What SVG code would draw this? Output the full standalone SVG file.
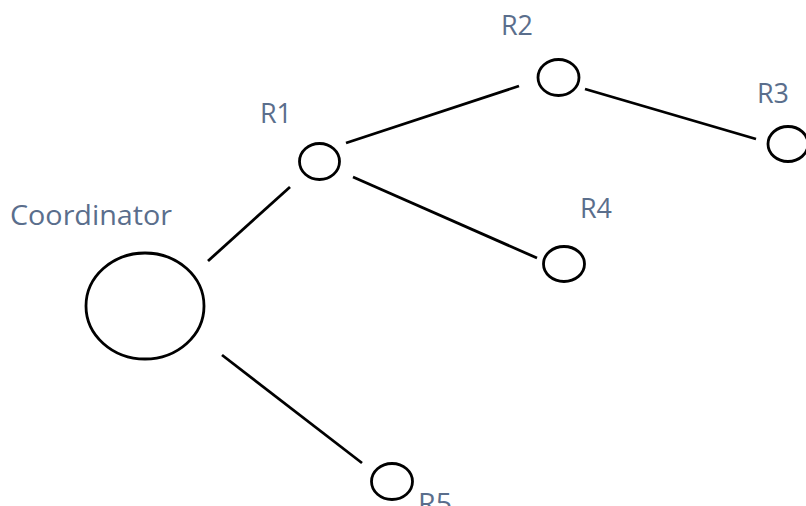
<svg xmlns="http://www.w3.org/2000/svg" width="806" height="506" viewBox="0 0 806 506">
<style>
.n{fill:none;stroke:#000;stroke-width:2.8}
.e{stroke:#000;stroke-width:2.8;fill:none}
.t{font-family:"Open Sans","Liberation Sans",sans-serif;font-size:27px;fill:#5a6e8c}
</style>
<rect width="806" height="506" fill="#fff"/>
<g id="connectors">
<line class="e" x1="290" y1="187" x2="208" y2="261"/>
<line class="e" x1="346" y1="143" x2="519" y2="86"/>
<line class="e" x1="585" y1="89" x2="756" y2="139"/>
<line class="e" x1="353" y1="177" x2="537" y2="258"/>
<line class="e" x1="222" y1="355" x2="362" y2="463"/>
</g>
<g id="coordinator">
<ellipse class="n" cx="145" cy="306" rx="59" ry="53"/>
<text class="t" x="10" y="225" textLength="162" lengthAdjust="spacingAndGlyphs">Coordinator</text>
</g>
<g id="r1">
<ellipse class="n" cx="319.5" cy="161.5" rx="20" ry="18"/>
<text class="t" x="260" y="123" textLength="32" lengthAdjust="spacingAndGlyphs">R1</text>
</g>
<g id="r2">
<ellipse class="n" cx="558.5" cy="77.5" rx="20.5" ry="18"/>
<text class="t" x="501" y="35" textLength="32" lengthAdjust="spacingAndGlyphs">R2</text>
</g>
<g id="r3">
<ellipse class="n" cx="788" cy="144" rx="20" ry="17.5"/>
<text class="t" x="757" y="103" textLength="32" lengthAdjust="spacingAndGlyphs">R3</text>
</g>
<g id="r4">
<ellipse class="n" cx="564" cy="264" rx="20.5" ry="17.5"/>
<text class="t" x="580" y="218" textLength="32" lengthAdjust="spacingAndGlyphs">R4</text>
</g>
<g id="r5">
<ellipse class="n" cx="392" cy="481.5" rx="20.5" ry="18"/>
<text class="t" x="418" y="513" textLength="34" lengthAdjust="spacingAndGlyphs">R5</text>
</g>
</svg>
